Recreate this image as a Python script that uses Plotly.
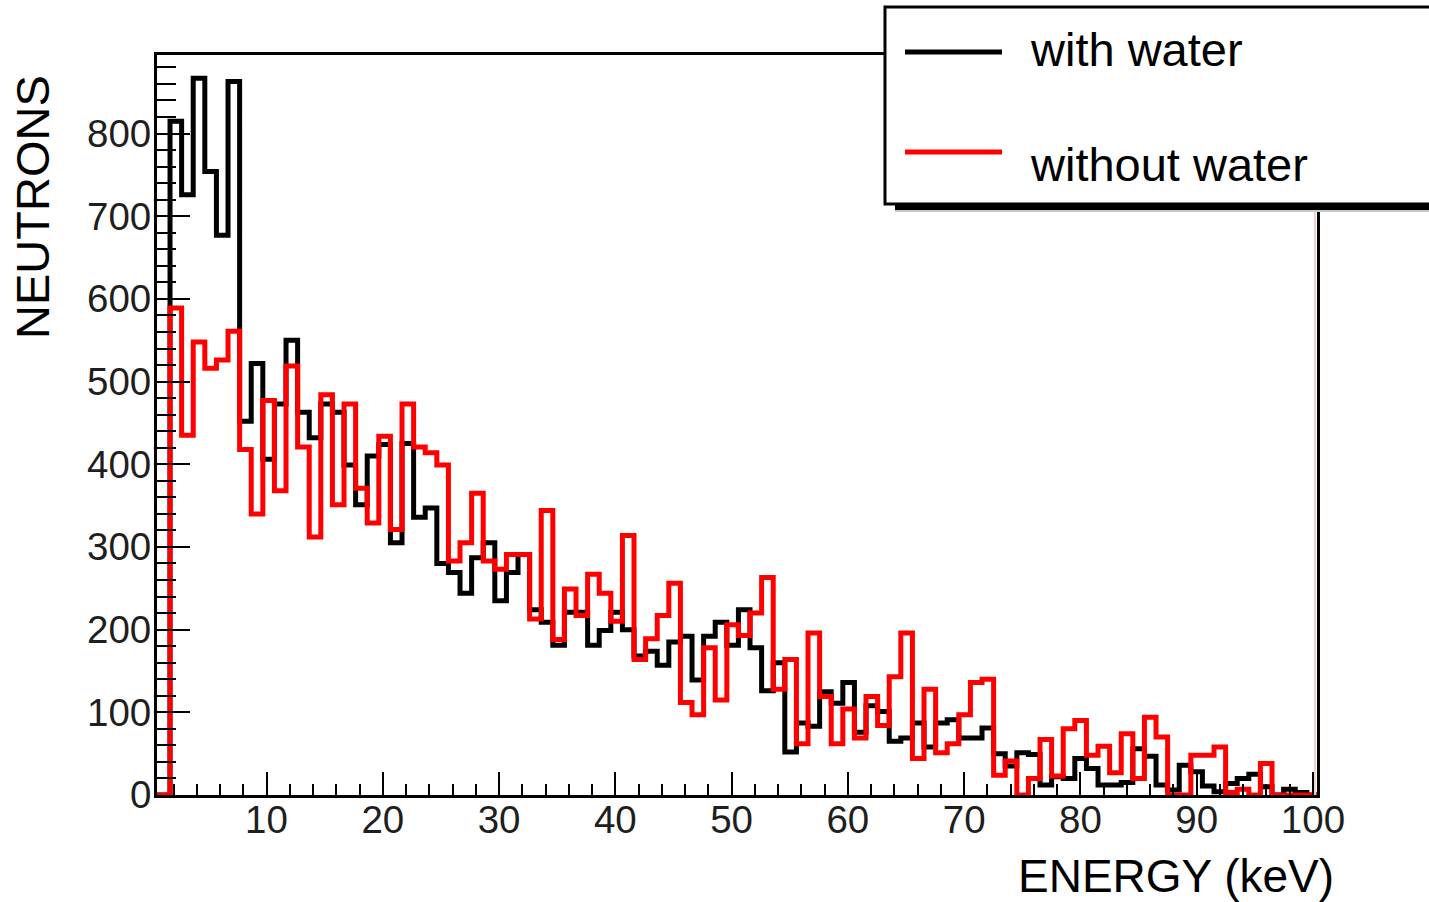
import plotly.graph_objects as go

# ---------------- data ----------------
BIN_START = 1.70      # keV, lower edge of first filled bin
BIN_WIDTH = 0.9977    # keV
with_water = [815, 726, 867, 754, 677, 863, 452, 522, 406, 473,
              550, 463, 432, 473, 463, 399, 351, 410, 424, 305,
              425, 336, 347, 280, 269, 244, 287, 305, 235, 269,
              291, 224, 209, 181, 221, 221, 181, 199, 221, 200,
              168, 174, 157, 185, 192, 139, 192, 209, 181, 224,
              178, 126, 160, 52, 87, 83, 125, 111, 136, 76,
              108, 101, 65, 69, 87, 58, 87, 91, 69, 69,
              81, 50, 35, 51, 49, 12, 22, 20, 44, 32,
              12, 12, 15, 56, 47, 12, 6, 36, 28, 11,
              4, 14, 20, 25, 10, 0, 7, 3, 0]
without_water = [589, 435, 548, 516, 526, 561, 418, 340, 477, 368,
                 519, 421, 312, 484, 351, 473, 371, 329, 434, 321,
                 473, 421, 414, 399, 283, 305, 365, 283, 273, 291,
                 291, 213, 344, 188, 249, 217, 267, 244, 210, 314,
                 164, 189, 217, 256, 112, 97, 178, 115, 206, 193,
                 220, 263, 128, 164, 62, 196, 119, 62, 104, 69,
                 119, 84, 143, 196, 44, 128, 51, 62, 97, 136,
                 140, 24, 41, 0, 20, 67, 23, 80, 90, 48,
                 59, 27, 74, 20, 94, 70, 0, 0, 48, 48,
                 58, 3, 7, 0, 38, 0, 0, 0, 0]
series_names = ["with water", "without water"]
x_title = "ENERGY (keV)"
y_title = "NEUTRONS"

# ---------------- layout geometry ----------------
W, H = 1429, 902
L, R, T, B = 157, 1317, 55, 795          # plot area in pixels
X_RANGE = [0.58, 100.35]
Y_RANGE = [0, 895]


def px(xp):
    return (xp - L) / (R - L)


def py(yp):
    return (B - yp) / (B - T)


def step_xy(values):
    edges = [BIN_START + i * BIN_WIDTH for i in range(len(values) + 1)]
    xs = [0.0] + edges + [edges[-1]]
    ys = [0] + list(values) + [values[-1], 0]
    return xs, ys[:len(xs)]


fig = go.Figure()
for vals, name, col in [(with_water, series_names[0], "#000000"),
                        (without_water, series_names[1], "#ff0000")]:
    xs, ys = step_xy(vals)
    fig.add_trace(go.Scatter(x=xs, y=ys, mode="lines", name=name,
                             line=dict(color=col, width=5, shape="hv"),
                             showlegend=False, hoverinfo="skip"))

tick_font = dict(family="Liberation Sans, Arial, sans-serif", size=38.5, color="#1e1e1e")

fig.update_layout(
    width=W, height=H,
    margin=dict(l=L, r=W - R, t=T, b=H - B, pad=0),
    paper_bgcolor="white", plot_bgcolor="white",
    showlegend=False,
    xaxis=dict(range=X_RANGE, showgrid=False, zeroline=False,
               showline=True, linecolor="black", linewidth=3, mirror=True,
               ticks="inside", ticklen=23, tickwidth=2.3, tickcolor="black",
               tick0=0, dtick=10, tickfont=tick_font, ticklabelstandoff=-11,
               minor=dict(ticks="inside", ticklen=11, tickwidth=2.3,
                          tickcolor="black", dtick=2, tick0=0)),
    yaxis=dict(range=Y_RANGE, showgrid=False, zeroline=False,
               showline=True, linecolor="black", linewidth=3, mirror=True,
               ticks="inside", ticklen=33, tickwidth=2.3, tickcolor="black",
               tick0=0, dtick=100, tickfont=tick_font, ticklabelstandoff=-5,
               minor=dict(ticks="inside", ticklen=19, tickwidth=2.3,
                          tickcolor="black", dtick=20, tick0=0)),
)

title_font = dict(family="Liberation Sans, Arial, sans-serif", size=47, color="black")
fig.add_annotation(text=y_title, textangle=-90, xref="paper", yref="paper",
                   x=px(33), y=py(73), xanchor="center", yanchor="top",
                   showarrow=False, font=title_font)
fig.add_annotation(text=x_title, xref="paper", yref="paper",
                   x=px(1336), y=py(876), xanchor="right", yanchor="middle",
                   showarrow=False, font=dict(family="Liberation Sans, Arial, sans-serif",
                                              size=46, color="black"))

# faint pink line near the right frame edge
fig.add_shape(type="line", xref="paper", yref="paper",
              x0=px(1315), x1=px(1315), y0=py(795), y1=py(210),
              line=dict(color="#f7cccc", width=2), layer="above")

# legend: shadow, box, samples, texts
fig.add_shape(type="rect", xref="paper", yref="paper",
              x0=px(895), x1=px(1445), y0=py(212), y1=py(20),
              fillcolor="#c8c8c8", line=dict(width=0), layer="above")
fig.add_shape(type="rect", xref="paper", yref="paper",
              x0=px(895), x1=px(1445), y0=py(210), y1=py(20),
              fillcolor="black", line=dict(width=0), layer="above")
fig.add_shape(type="rect", xref="paper", yref="paper",
              x0=px(885), x1=px(1445), y0=py(204), y1=py(7),
              fillcolor="white", line=dict(color="black", width=3), layer="above")
legend_font = dict(family="Liberation Sans, Arial, sans-serif", size=47, color="black")
for name, col, ly, ty in [(series_names[0], "#000000", 52, 49),
                          (series_names[1], "#ff0000", 152, 164)]:
    fig.add_shape(type="line", xref="paper", yref="paper",
                  x0=px(905), x1=px(1002), y0=py(ly), y1=py(ly),
                  line=dict(color=col, width=5), layer="above")
    fig.add_annotation(text=name, xref="paper", yref="paper",
                       x=px(1028), y=py(ty), xanchor="left", yanchor="middle",
                       showarrow=False, font=legend_font)

fig.write_html("out.html", config={"displayModeBar": False})
